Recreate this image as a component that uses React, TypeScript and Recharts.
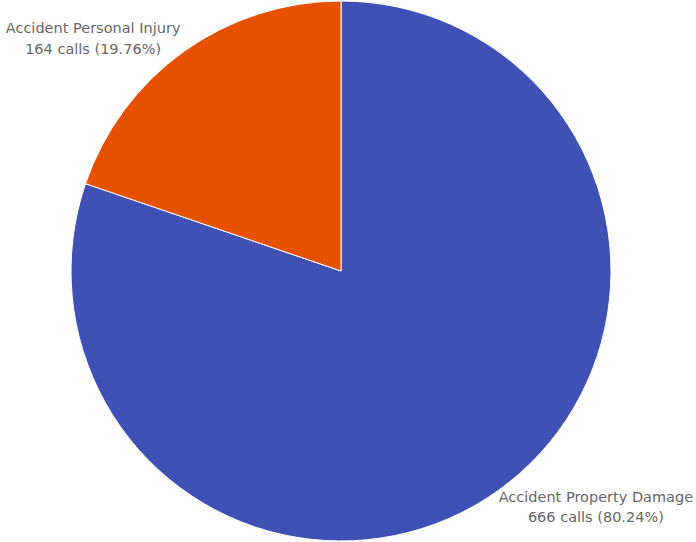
import React from 'react';
import { PieChart, Pie, Cell } from 'recharts';

const categories = ['Accident Property Damage', 'Accident Personal Injury'];
const calls = [666, 164];
const colors = ['#3F51B5', '#E65100'];

const data = categories.map((name, i) => ({ name, value: calls[i] }));
const total = calls.reduce((a, b) => a + b, 0);

const RADIAN = Math.PI / 180;

const renderLabel = (props: any) => {
  const { cx, cy, midAngle, outerRadius, name, value } = props;
  const r = outerRadius + 20;
  const x = cx + r * Math.cos(-midAngle * RADIAN);
  const y = cy + r * Math.sin(-midAngle * RADIAN);
  const line2 = `${value} calls (${((value / total) * 100).toFixed(2)}%)`;
  const w = Math.max(name.length, line2.length) * 7.6;
  const isRight = x > cx;
  const center = isRight ? x - 5 + w / 2 : x + 12 - w / 2;
  const top = isRight ? y - 5 : y - 2;
  return (
    <text
      x={center}
      y={top}
      textAnchor="middle"
      fill="#666"
      style={{ fontFamily: 'DejaVu Sans, sans-serif', fontSize: 14.5 }}
    >
      <tspan x={center} dy={0}>{name}</tspan>
      <tspan x={center} dy={20.5}>{line2}</tspan>
    </text>
  );
};

export default function App() {
  return (
    <div style={{ position: 'absolute', left: 0, top: 0, width: 696, height: 542, background: '#fff' }}>
      <PieChart width={696} height={542} margin={{ top: 0, right: 0, bottom: 0, left: 0 }}>
        <Pie
          data={data}
          dataKey="value"
          nameKey="name"
          cx={341}
          cy={271}
          outerRadius={270}
          startAngle={90}
          endAngle={-270}
          stroke="#fff"
          strokeWidth={1}
          label={renderLabel}
          labelLine={false}
          isAnimationActive={false}
        >
          {data.map((d, i) => (
            <Cell key={d.name} fill={colors[i]} />
          ))}
        </Pie>
      </PieChart>
    </div>
  );
}
